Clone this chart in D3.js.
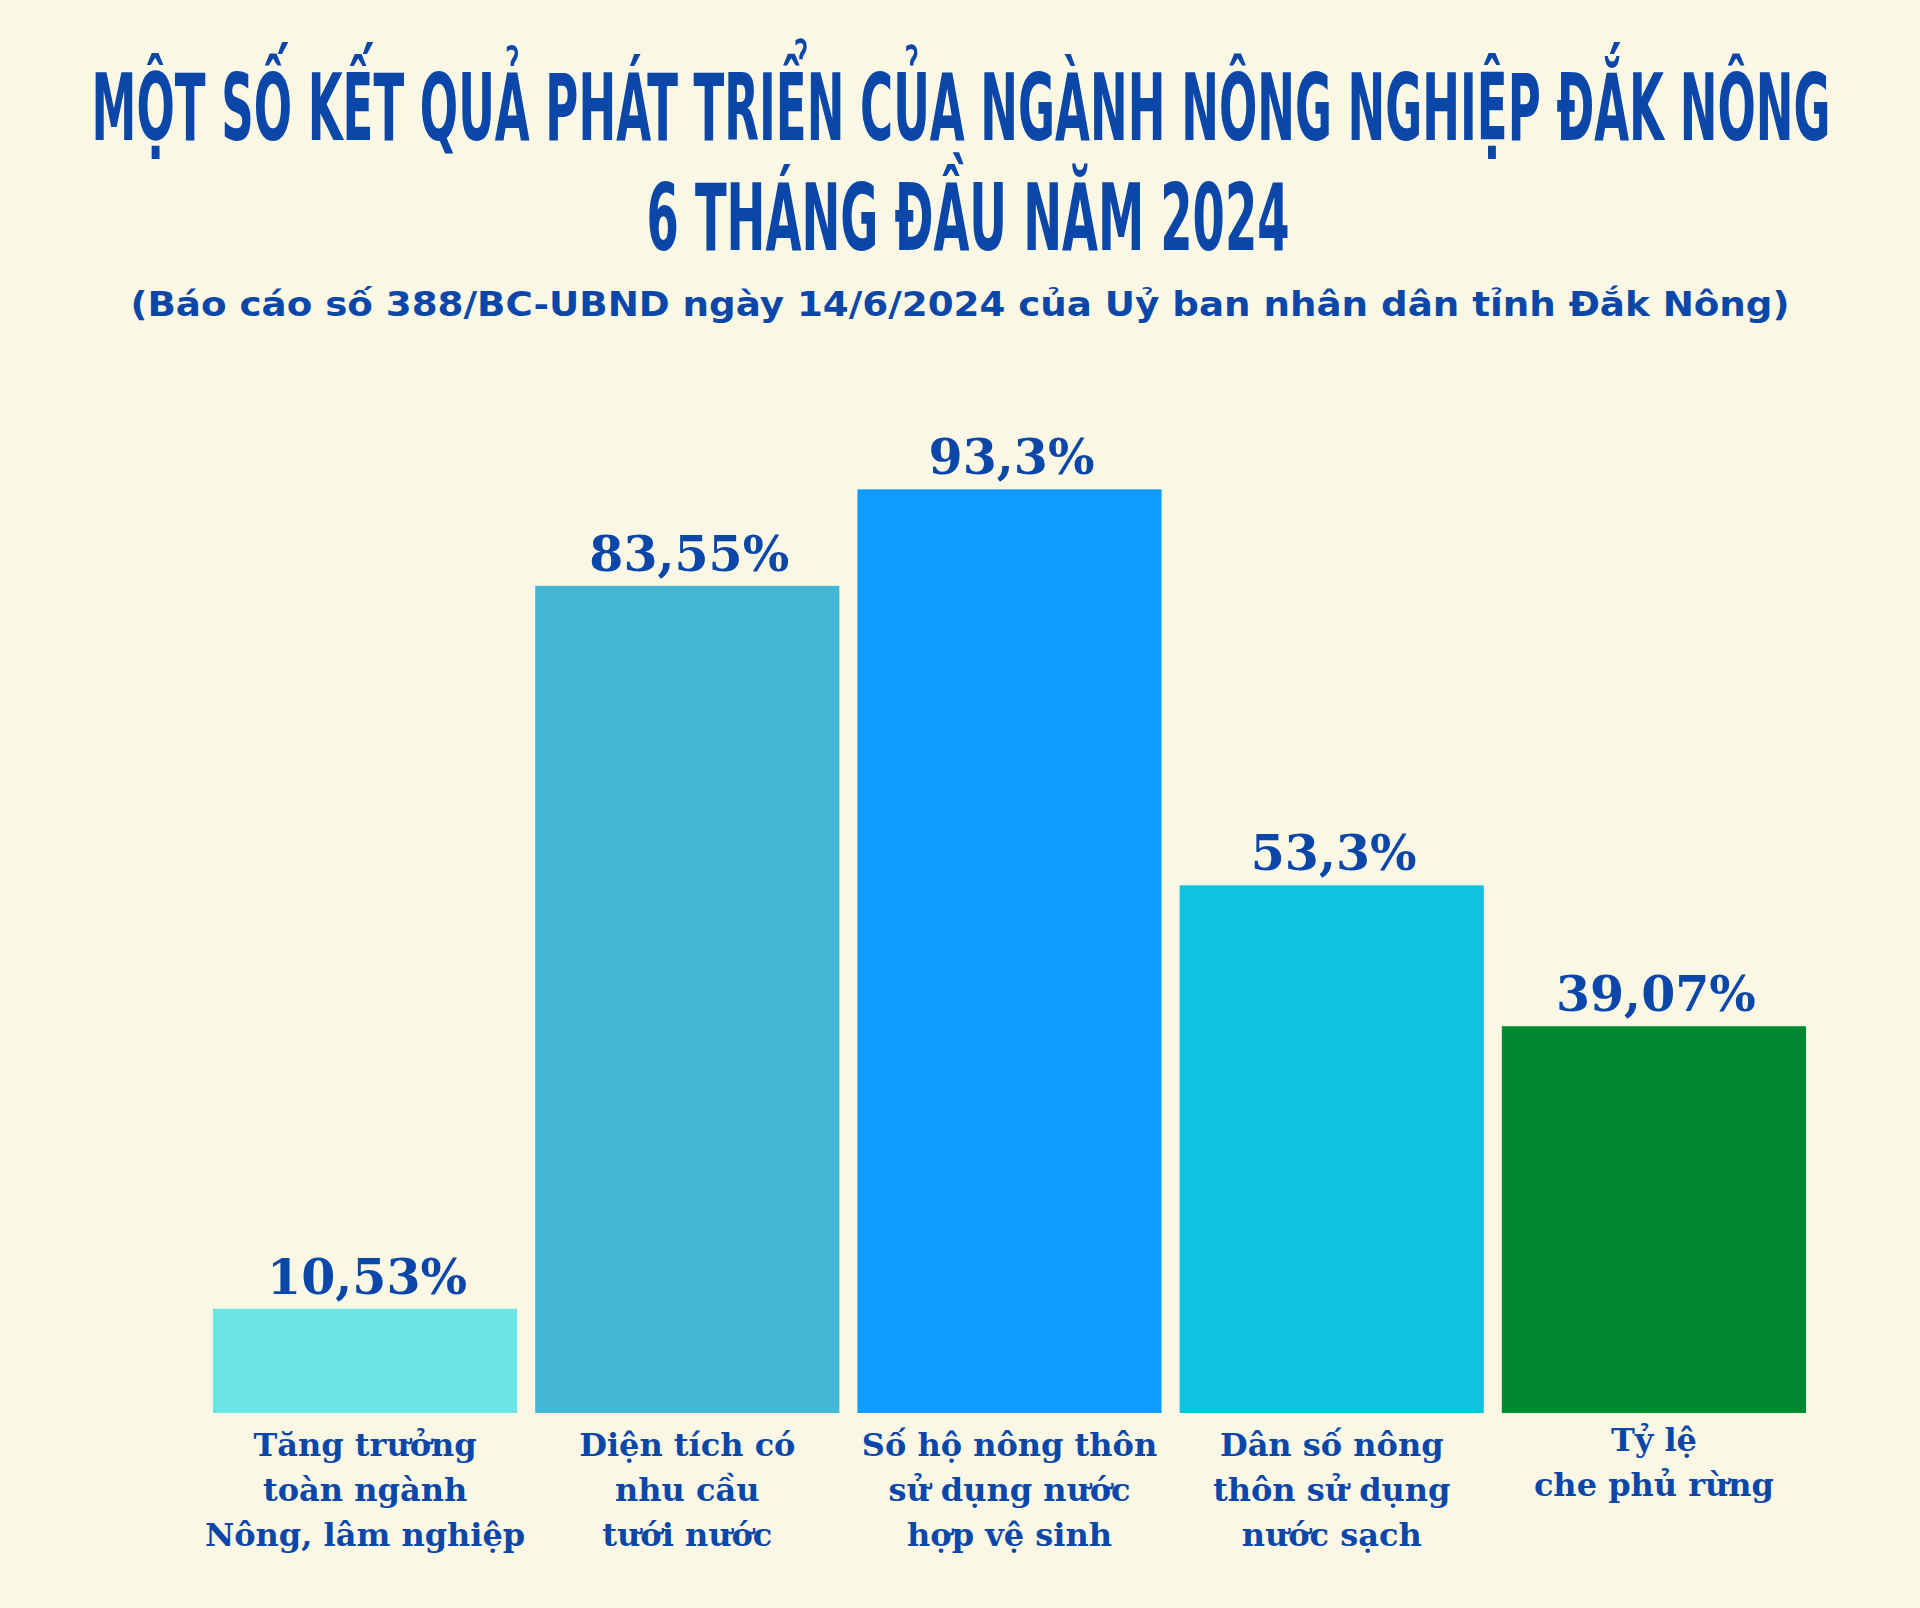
<!DOCTYPE html>
<html>
<head>
<meta charset="utf-8">
<script src="https://cdn.jsdelivr.net/npm/d3@7"></script>
<style>
  html, body { margin: 0; padding: 0; background: #faf7e4; }
  svg { display: block; }
</style>
</head>
<body>
<script>
// ---- Data ----
const titleLines = ["MỘT SỐ KẾT QUẢ PHÁT TRIỂN CỦA NGÀNH NÔNG NGHIỆP ĐẮK NÔNG", "6 THÁNG ĐẦU NĂM 2024"];
const subtitle = "(Báo cáo số 388/BC-UBND ngày 14/6/2024 của Uỷ ban nhân dân tỉnh Đắk Nông)";
const categories = [
  ["Tăng trưởng", "toàn ngành", "Nông, lâm nghiệp"],
  ["Diện tích có", "nhu cầu", "tưới nước"],
  ["Số hộ nông thôn", "sử dụng nước", "hợp vệ sinh"],
  ["Dân số nông", "thôn sử dụng", "nước sạch"],
  ["Tỷ lệ", "che phủ rừng"]
];
const values = [10.53, 83.55, 93.3, 53.3, 39.07];
const valueLabels = ["10,53%", "83,55%", "93,3%", "53,3%", "39,07%"];
const barColors = ["#6ae4e6", "#43b7d5", "#0e9dfe", "#0fc2e0", "#00892e"];

// ---- Layout ----
const W = 1920, H = 1608;
const textBlue = "#0b47a8";
const svg = d3.select("body").append("svg").attr("width", W).attr("height", H);
svg.append("rect").attr("width", W).attr("height", H).attr("fill", "#faf7e4");

// Titles (condensed look: vertical stretch of a narrow bold face)
const titleFont = "'DejaVu Sans Condensed', 'Liberation Sans Narrow', 'DejaVu Sans', sans-serif";
svg.append("text")
  .attr("transform", "translate(961,140) scale(1,1.86)")
  .attr("text-anchor", "middle")
  .attr("font-family", titleFont).attr("font-weight", "bold").attr("font-size", 50)
  .attr("fill", textBlue)
  .attr("textLength", 1739).attr("lengthAdjust", "spacingAndGlyphs")
  .text(titleLines[0]);
svg.append("text")
  .attr("transform", "translate(968,250) scale(1,1.86)")
  .attr("text-anchor", "middle")
  .attr("font-family", titleFont).attr("font-weight", "bold").attr("font-size", 50)
  .attr("fill", textBlue)
  .attr("textLength", 643).attr("lengthAdjust", "spacingAndGlyphs")
  .text(titleLines[1]);
svg.append("text")
  .attr("x", 960).attr("y", 316)
  .attr("text-anchor", "middle")
  .attr("font-family", "'DejaVu Sans', 'Open Sans', sans-serif").attr("font-weight", "bold").attr("font-size", 34)
  .attr("fill", textBlue)
  .attr("textLength", 1659).attr("lengthAdjust", "spacingAndGlyphs")
  .text(subtitle);

// Scales
const idx = values.map((d, i) => i);
const x = d3.scaleBand().domain(idx).range([213, 1806]).paddingInner(0.056).paddingOuter(0);
const baseY = 1413;
const y = d3.scaleLinear().domain([0, 100]).range([baseY, baseY - 990]);

// Bars
svg.append("g").selectAll("rect").data(values).join("rect")
  .attr("x", (d, i) => x(i))
  .attr("width", x.bandwidth())
  .attr("y", d => y(d))
  .attr("height", d => baseY - y(d))
  .attr("fill", (d, i) => barColors[i]);

// Value labels
svg.append("g").selectAll("text").data(values).join("text")
  .attr("x", (d, i) => x(i) + x.bandwidth() / 2 + 2)
  .attr("y", d => y(d) - 15)
  .attr("text-anchor", "middle")
  .attr("font-family", "'DejaVu Serif', serif").attr("font-weight", "bold").attr("font-size", 49)
  .attr("fill", textBlue)
  .text((d, i) => valueLabels[i]);

// Category labels
const catG = svg.append("g").selectAll("text").data(categories).join("text")
  .attr("text-anchor", "middle")
  .attr("font-family", "'DejaVu Serif', serif").attr("font-weight", "bold").attr("font-size", 32)
  .attr("fill", textBlue);
catG.each(function(lines, i) {
  const t = d3.select(this);
  const startY = lines.length === 3 ? 1456 : 1451;
  lines.forEach((ln, j) => {
    t.append("tspan")
      .attr("x", x(i) + x.bandwidth() / 2)
      .attr("y", startY + j * 45)
      .text(ln);
  });
});
</script>
</body>
</html>
